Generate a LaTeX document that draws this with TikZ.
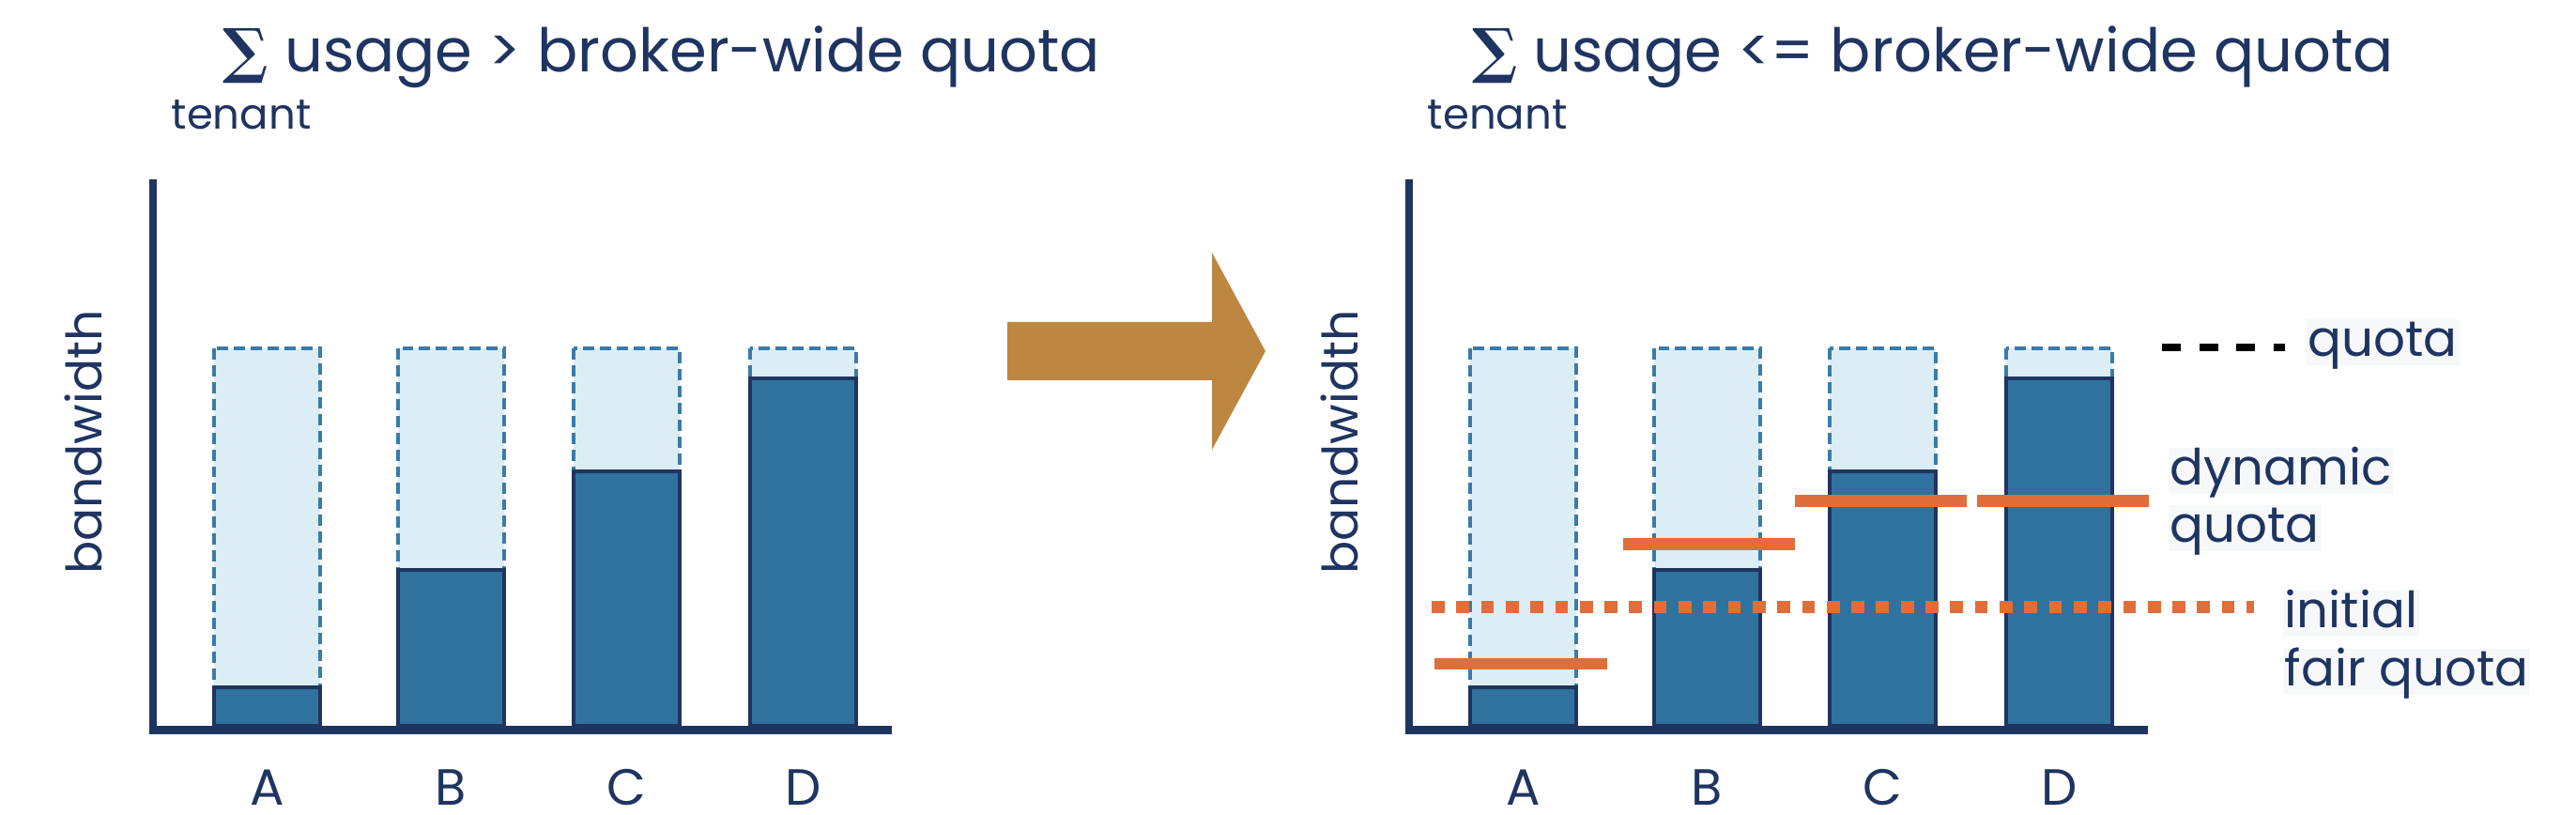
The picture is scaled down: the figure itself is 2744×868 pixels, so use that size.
\documentclass[tikz,border=0pt]{standalone}
\usepackage{fontspec}
\setmainfont{Poppins}
\newfontfamily\sumfont{DejaVu Serif}
\definecolor{navy}{HTML}{1F3460}
\definecolor{barblue}{HTML}{30729E}
\definecolor{lightblue}{HTML}{DCEDF5}
\definecolor{dashblue}{HTML}{3A7BA8}
\definecolor{quotaorange}{HTML}{E06E3A}
\definecolor{arrowtan}{HTML}{BD8742}
\definecolor{labelbg}{HTML}{F6F8FA}
\tikzset{
  axisline/.style={draw=navy, line width=2.5pt},
  lightpart/.style={fill=lightblue, draw=dashblue, line width=0.9pt, dash pattern=on 3.4pt off 1.7pt},
  usedpart/.style={fill=barblue, draw=navy, line width=0.9pt},
  titletext/.style={font=\fontsize{18.2pt}{22pt}\selectfont, text=navy, inner sep=0pt, anchor=base},
  tenanttext/.style={font=\fontsize{12.8pt}{15pt}\selectfont, text=navy, inner sep=0pt, anchor=base west},
  bwtext/.style={font=\fontsize{14.8pt}{18pt}\selectfont, text=navy, inner sep=0pt, anchor=base, rotate=90},
  lettertext/.style={font=\fontsize{15.4pt}{18pt}\selectfont, text=navy, inner sep=0pt, text depth=0pt, anchor=base},
  legendtext/.style={font=\fontsize{15.1pt}{18pt}\selectfont, text=navy, fill=labelbg, inner ysep=0pt, inner xsep=0.02cm, text height=0.4cm, text depth=0.09cm, anchor=base west},
  dynquota/.style={fill=quotaorange},
  fairline/.style={draw=quotaorange, line width=3.7pt, dash pattern=on 3.9pt off 3.58pt},
  quotaline/.style={draw=black, line width=2.13pt, dash pattern=on 5.69pt off 5.55pt},
  bigarrow/.style={fill=arrowtan}
}
\begin{document}
\begin{tikzpicture}[x=0.01cm, y=-0.01cm]
\useasboundingbox (0,0) rectangle (2744,868);

% titles
\node[titletext] (titleL) at (705,77) {{\sumfont\bfseries ∑} usage > broker-wide quota};
\node[titletext] (titleR) at (2059,77) {{\sumfont\bfseries ∑} usage <= broker-wide quota};

\foreach \c/\off in {L/0, R/1338} {
  \node[tenanttext] (tenant\c) at (\off+182,138) {tenant};
  \node[bwtext] (bw\c) at (\off+108,471) {bandwidth};
  % bars
  \foreach \bx/\bt/\lab in {228/732/A, 424/607/B, 611/502/C, 799/403/D} {
    \path[lightpart] (\off+\bx,371) rectangle (\off+\bx+113,\bt);
    \path[usedpart] (\off+\bx,\bt) rectangle (\off+\bx+113,773);
    \node[lettertext] (lab\c\lab) at (\off+\bx+56.5,858) {\lab};
  }
  % axes
  \coordinate (origin\c) at (\off+163,777.5);
  \coordinate (ytop\c) at (\off+163,191);
  \coordinate (xend\c) at (\off+950,777.5);
  \draw[axisline] (ytop\c) -- (\off+163,782);
  \draw[axisline] (\off+159,777.5) -- (xend\c);
}

% arrow
\path[bigarrow] (1073,343) -- (1291,343) -- (1291,269) -- (1348,374) -- (1291,479) -- (1291,405) -- (1073,405) -- cycle;

% dynamic quotas
\path[dynquota] (1528,701) rectangle (1712,713);
\path[dynquota] (1729,573) rectangle (1912,586);
\path[dynquota] (1912,527) rectangle (2095,540);
\path[dynquota] (2106,527) rectangle (2289,540);

% initial fair quota
\coordinate (fairS) at (1525,647);
\coordinate (fairE) at (2401,647);
\draw[fairline] (fairS) -- (fairE);

% legend
\coordinate (qS) at (2303,370);
\coordinate (qE) at (2434,370);
\draw[quotaline] (qS) -- (qE);
\node[legendtext] (legQuota) at (2456,380) {quota};
\node[legendtext] (legDyn1) at (2309,517) {dynamic};
\node[legendtext] (legDyn2) at (2309,578) {quota};
\node[legendtext] (legInit1) at (2431,669) {initial};
\node[legendtext] (legInit2) at (2431,731) {fair quota};
\end{tikzpicture}
\end{document}
